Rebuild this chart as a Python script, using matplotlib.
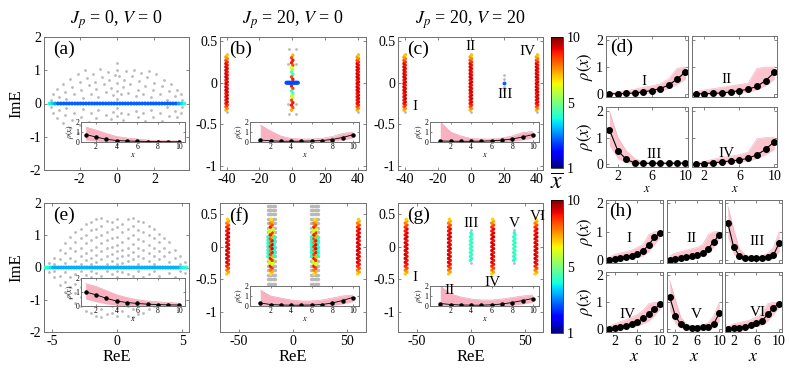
import numpy as np
import matplotlib.pyplot as plt
from matplotlib import colors, cm

plt.rcParams['font.family'] = ['Liberation Serif', 'DejaVu Serif']
plt.rcParams['mathtext.fontset'] = 'stix'
plt.rcParams['axes.unicode_minus'] = False

site = [1, 2, 3, 4, 5, 6, 7, 8, 9, 10]

# ---------------- spectra data ----------------
# (a) gray eigenvalues, upper half (conjugate pairs drawn mirrored)
a_gray_re = [-3.5, -3.4, -3.2, -3.1, -2.9, -2.8, -2.7, -2.5, -2.4, -2.3, -2.1, -2.0, -1.9, -1.8,
             -1.7, -1.6, -1.5, -1.4, -1.3, -1.2, -1.1, -1.0, -0.9, -0.8, -0.7, -0.6, -0.5, -0.4,
             -0.3, -0.2, -0.1, 0.0, 0.0, 0.0, 0.0, 0.0, 0.1, 0.2, 0.3, 0.4, 0.5, 0.6, 0.7, 0.8,
             0.9, 1.0, 1.1, 1.2, 1.3, 1.4, 1.5, 1.6, 1.7, 1.8, 1.9, 2.0, 2.1, 2.3, 2.4, 2.5,
             2.7, 2.8, 2.9, 3.1, 3.2, 3.4, 3.5]
a_gray_im = [0.12, 0.3, 0.45, 0.2, 0.6, 0.35, 0.15, 0.75, 0.5, 0.28, 0.9, 0.65, 0.42, 0.18,
             1.0, 0.78, 0.55, 0.3, 0.9, 0.65, 0.45, 0.2, 1.05, 0.8, 0.58, 0.35, 0.95, 0.7,
             0.48, 0.25, 0.85, 1.22, 1.02, 0.62, 0.38, 0.15, 0.82, 0.28, 0.5, 0.72, 0.98, 0.32, 0.6, 0.82,
             1.02, 0.22, 0.42, 0.68, 0.92, 0.28, 0.52, 0.8, 0.98, 0.2, 0.4, 0.62, 0.88, 0.3, 0.52, 0.72,
             0.12, 0.38, 0.58, 0.22, 0.42, 0.28, 0.1]
a_line_re = [-3.6, -3.45, -3.3, -3.15, -3.0, -2.85, -2.7, -2.55, -2.4, -2.25, -2.1, -1.95, -1.8,
             -1.65, -1.5, -1.35, -1.2, -1.05, -0.9, -0.75, -0.6, -0.45, -0.3, -0.15, 0.0, 0.15,
             0.3, 0.45, 0.6, 0.75, 0.9, 1.05, 1.2, 1.35, 1.5, 1.65, 1.8, 1.95, 2.1, 2.25, 2.4,
             2.55, 2.7, 2.85, 3.0, 3.15, 3.3, 3.45, 3.6]
a_line_xbar = [4.4, 4.0, 3.6] + [3.0] * 43 + [3.6, 4.0, 4.6]

# (e) gray eigenvalues by column, upper half
e_gray_col = [-5.2, -4.8, -4.4, -4.0, -3.6, -3.2, -2.8, -2.4, -2.0, -1.6, -1.2, -0.8, -0.4, 0.0,
              0.4, 0.8, 1.2, 1.6, 2.0, 2.4, 2.8, 3.2, 3.6, 4.0, 4.4, 4.8, 5.2]
e_gray_ims = [[0.15], [0.3, 0.1], [0.55, 0.25], [0.75, 0.45, 0.15], [0.95, 0.6, 0.3],
              [1.1, 0.8, 0.5, 0.2], [1.2, 0.9, 0.62, 0.35, 0.12], [1.35, 1.0, 0.75, 0.45, 0.22],
              [1.4, 1.15, 0.85, 0.55, 0.3, 0.1], [1.5, 1.2, 0.95, 0.65, 0.4, 0.18],
              [1.55, 1.3, 1.0, 0.75, 0.5, 0.25], [1.45, 1.1, 0.85, 0.6, 0.35, 0.12],
              [1.4, 1.2, 0.9, 0.65, 0.42, 0.2], [1.5, 1.25, 0.95, 0.7, 0.5, 0.3, 0.1],
              [1.35, 1.1, 0.8, 0.55, 0.35, 0.15], [1.5, 1.2, 0.9, 0.62, 0.4, 0.2],
              [1.55, 1.28, 1.0, 0.72, 0.48, 0.25], [1.45, 1.15, 0.88, 0.6, 0.35, 0.12],
              [1.4, 1.1, 0.82, 0.55, 0.3], [1.3, 1.02, 0.7, 0.45, 0.2], [1.2, 0.92, 0.6, 0.35, 0.12],
              [1.05, 0.78, 0.5, 0.25], [0.9, 0.62, 0.35], [0.78, 0.48, 0.18], [0.55, 0.28],
              [0.35, 0.12], [0.18]]
e_line_re = [-5.5, -5.3, -5.1, -4.9, -4.7, -4.5, -4.3, -4.1, -3.9, -3.7, -3.5, -3.3, -3.1, -2.9,
             -2.7, -2.5, -2.3, -2.1, -1.9, -1.7, -1.5, -1.3, -1.1, -0.9, -0.7, -0.5, -0.3, -0.1,
             0.1, 0.3, 0.5, 0.7, 0.9, 1.1, 1.3, 1.5, 1.7, 1.9, 2.1, 2.3, 2.5, 2.7, 2.9, 3.1, 3.3,
             3.5, 3.7, 3.9, 4.1, 4.3, 4.5, 4.7, 4.9, 5.1, 5.3]
e_line_xbar = [4.6, 4.4, 4.2] + [3.7] * 49 + [4.2, 4.4, 4.6]

# red/orange edge-localized columns (b, c)
red_bc_im = [-0.33, -0.31, -0.29, -0.27, -0.25, -0.23, -0.21, -0.19, -0.17, -0.15, -0.13, -0.11,
             -0.09, -0.07, -0.05, -0.03, -0.01, 0.01, 0.03, 0.05, 0.07, 0.09, 0.11, 0.13, 0.15,
             0.17, 0.19, 0.21, 0.23, 0.25, 0.27, 0.29, 0.31, 0.33]
red_bc_xbar = [7.4, 7.8, 8.3, 8.8, 9.0, 9.2, 9.0, 9.3, 9.1, 9.4, 9.0, 9.2, 9.3, 9.1, 9.4, 9.0,
               9.2, 9.3, 9.0, 9.2, 9.4, 9.1, 9.3, 9.0, 9.2, 9.1, 9.3, 9.0, 9.2, 8.8, 8.5, 8.0,
               7.7, 7.3]
red_bc_dre = [-0.4, 0.4] * 17
# (b) central column at ReE = 0
b_mid_im = [0.33, 0.3, 0.27, 0.24, 0.21, 0.18, 0.16, 0.13, 0.1, 0.07, 0.04, -0.04, -0.07, -0.1,
            -0.13, -0.16, -0.18, -0.21, -0.24, -0.27, -0.3, -0.33]
b_mid_xbar = [7.5, 8.5, 9.0, 9.0, 8.5, 6.5, 6.3, 5.0, 4.8, 8.5, 9.0, 9.0, 8.5, 4.8, 5.0, 6.3,
              6.5, 8.5, 9.0, 9.0, 8.5, 7.5]
b_mid_dre = [0.4, -0.4] * 11
b_bar_re = [-3.5, -3.0, -2.5, -2.0, -1.5, -1.0, -0.5, 0.0, 0.5, 1.0, 1.5, 2.0, 2.5, 3.0, 3.5]
b_gray_re = [-2.0, 2.1, -2.0, 2.1, -2.4, 2.5, -2.4, 2.5, -40, -40, 40, 40]
b_gray_im = [0.4, 0.4, -0.38, -0.38, 0.22, 0.22, -0.25, -0.25, 0.35, -0.35, 0.35, -0.35]
# (c) state III
c3_gray_im = [-0.09, -0.05, 0.05, 0.09]

# red/orange columns (f, g)
red_fg_im = [-0.42, -0.39, -0.36, -0.33, -0.3, -0.27, -0.24, -0.21, -0.18, -0.15, -0.12, -0.09,
             -0.06, -0.03, 0.0, 0.03, 0.06, 0.09, 0.12, 0.15, 0.18, 0.21, 0.24, 0.27, 0.3, 0.33,
             0.36, 0.39, 0.42]
red_fg_xbar = [7.2, 7.6, 8.0, 8.5, 8.8, 9.0, 9.2, 9.0, 9.3, 9.1, 9.4, 9.0, 9.2, 9.3, 9.1, 9.2,
               9.3, 9.0, 9.2, 9.4, 9.1, 9.3, 9.0, 9.2, 8.8, 8.5, 8.0, 7.6, 7.2]
red_fg_dre = [-0.8, 0.8] * 14 + [0.0]
# (f) bulk clusters at ReE = +-20
f_mid_xbar = [7.0, 7.5, 8.0, 8.5, 9.0, 6.5, 6.2, 8.8, 9.0, 7.5, 8.5, 9.0, 8.0, 9.2, 8.7, 9.2,
              8.0, 9.0, 8.5, 7.5, 9.0, 8.8, 6.2, 6.5, 9.0, 8.5, 8.0, 7.5, 7.0]
f_cyan_dre = [-3.0, -2.2, -1.5, 1.5, 2.2, 3.0]
f_cyan_im = [-0.15, -0.1, -0.05, 0.0, 0.05, 0.1, 0.15]
f_yel_dre = [-1.8, 1.8, -1.8, 1.8, -1.8, 1.8, -1.8, 1.8]
f_yel_im = [0.2, 0.2, 0.26, 0.26, -0.2, -0.2, -0.26, -0.26]
f_gray_dre = [-3.4, -2.3, -1.2, 0.0, 1.2, 2.3, 3.4]
f_gray_im = [-0.57, -0.5, -0.43, -0.36, -0.29, -0.22, -0.15, -0.08, 0.0, 0.08, 0.15, 0.22,
             0.29, 0.36, 0.43, 0.5, 0.57, 0.62]
# (g) bulk-like states III and V
g_cyan_im = [-0.21, -0.18, -0.15, -0.12, -0.09, -0.06, -0.03, 0.0, 0.03, 0.06, 0.09, 0.12,
             0.15, 0.18, 0.21]
g_cyan_xbar = [4.5, 4.7, 4.6, 4.8, 4.6, 4.7, 4.9, 4.6, 4.8, 4.6, 4.7, 4.8, 4.6, 4.7, 4.5]
g_cyan_dre = [-0.6, 0.6] * 7 + [0.0]

# ---------------- density profiles ----------------
ins_a_mean = [0.75, 0.5, 0.27, 0.15, 0.1, 0.07, 0.05, 0.04, 0.03, 0.03]
ins_a_hi = [1.5, 1.2, 0.85, 0.55, 0.4, 0.3, 0.2, 0.15, 0.12, 0.1]
ins_a_lo = [0.2, 0.1, 0.02, 0.0, 0.0, 0.0, 0.0, 0.0, 0.0, 0.0]
ins_b_mean = [0.2, 0.12, 0.08, 0.07, 0.08, 0.1, 0.15, 0.25, 0.45, 0.72]
ins_b_hi = [1.7, 1.1, 0.6, 0.35, 0.3, 0.3, 0.35, 0.55, 0.85, 1.0]
ins_b_lo = [0.0, 0.0, 0.0, 0.0, 0.0, 0.0, 0.02, 0.08, 0.2, 0.4]
ins_c_mean = [0.1, 0.08, 0.07, 0.07, 0.08, 0.12, 0.18, 0.3, 0.5, 0.75]
ins_c_hi = [2.0, 1.0, 0.6, 0.35, 0.3, 0.3, 0.4, 0.6, 0.95, 1.05]
ins_c_lo = [0.0, 0.0, 0.0, 0.0, 0.0, 0.0, 0.02, 0.08, 0.2, 0.4]
ins_e_mean = [1.0, 0.8, 0.55, 0.35, 0.25, 0.18, 0.13, 0.1, 0.08, 0.07]
ins_e_hi = [1.6, 1.4, 1.1, 0.8, 0.6, 0.45, 0.35, 0.3, 0.25, 0.2]
ins_e_lo = [0.5, 0.3, 0.15, 0.05, 0.0, 0.0, 0.0, 0.0, 0.0, 0.0]
ins_f_mean = [0.3, 0.15, 0.1, 0.08, 0.08, 0.1, 0.15, 0.3, 0.55, 0.85]
ins_f_hi = [1.6, 1.0, 0.8, 0.6, 0.5, 0.5, 0.6, 0.8, 1.0, 1.1]
ins_f_lo = [0.0, 0.0, 0.0, 0.0, 0.0, 0.0, 0.0, 0.05, 0.2, 0.45]
ins_g_mean = [0.25, 0.15, 0.1, 0.08, 0.08, 0.12, 0.2, 0.35, 0.55, 0.75]
ins_g_hi = [2.0, 1.2, 0.9, 0.7, 0.6, 0.6, 0.7, 0.85, 1.0, 1.1]
ins_g_lo = [0.0, 0.0, 0.0, 0.0, 0.0, 0.0, 0.02, 0.08, 0.2, 0.4]

d_mean = [[0.01, 0.01, 0.02, 0.04, 0.08, 0.13, 0.2, 0.33, 0.55, 0.82],
          [0.01, 0.01, 0.02, 0.04, 0.08, 0.12, 0.18, 0.28, 0.5, 0.8],
          [1.3, 0.5, 0.18, 0.04, 0.03, 0.03, 0.03, 0.03, 0.03, 0.04],
          [0.01, 0.02, 0.05, 0.08, 0.12, 0.15, 0.22, 0.35, 0.55, 0.85]]
d_hi = [[0.05, 0.08, 0.12, 0.18, 0.25, 0.3, 0.38, 0.55, 0.95, 1.0],
        [0.1, 0.15, 0.2, 0.25, 0.3, 0.35, 0.4, 0.95, 1.0, 1.0],
        [2.0, 1.0, 0.5, 0.2, 0.08, 0.06, 0.06, 0.06, 0.06, 0.08],
        [0.05, 0.1, 0.18, 0.25, 0.3, 0.35, 0.45, 0.95, 1.0, 1.0]]
d_lo = [[0.0, 0.0, 0.0, 0.0, 0.02, 0.05, 0.1, 0.2, 0.35, 0.55],
        [0.0, 0.0, 0.0, 0.0, 0.02, 0.05, 0.08, 0.15, 0.3, 0.55],
        [0.7, 0.2, 0.05, 0.0, 0.0, 0.0, 0.0, 0.0, 0.0, 0.0],
        [0.0, 0.0, 0.0, 0.02, 0.05, 0.08, 0.12, 0.2, 0.35, 0.55]]
d_names = ['I', 'II', 'III', 'IV']
d_txt = [(5.1, 0.45), (4.5, 0.55), (6.3, 0.35), (4.5, 0.4)]

h_mean = [[0.01, 0.04, 0.08, 0.12, 0.15, 0.2, 0.32, 0.55, 0.8, 0.96],
          [0.01, 0.03, 0.06, 0.1, 0.14, 0.18, 0.25, 0.4, 0.65, 0.9],
          [1.3, 0.48, 0.15, 0.08, 0.06, 0.06, 0.08, 0.12, 0.18, 0.6],
          [0.01, 0.04, 0.08, 0.13, 0.2, 0.28, 0.4, 0.55, 0.75, 0.92],
          [1.2, 0.5, 0.18, 0.08, 0.05, 0.05, 0.07, 0.1, 0.2, 0.6],
          [0.01, 0.03, 0.06, 0.1, 0.15, 0.22, 0.32, 0.55, 0.8, 0.95]]
h_hi = [[0.1, 0.2, 0.25, 0.3, 0.35, 0.45, 0.55, 0.9, 1.0, 1.0],
        [0.15, 0.25, 0.3, 0.35, 0.4, 0.45, 0.55, 0.9, 1.0, 1.0],
        [1.9, 1.1, 0.4, 0.2, 0.12, 0.12, 0.15, 0.25, 0.45, 1.0],
        [0.1, 0.2, 0.28, 0.35, 0.45, 0.55, 0.7, 0.95, 1.0, 1.0],
        [1.8, 1.1, 0.45, 0.2, 0.12, 0.12, 0.15, 0.25, 0.5, 1.0],
        [0.1, 0.2, 0.25, 0.3, 0.35, 0.45, 0.6, 0.95, 1.0, 1.0]]
h_lo = [[0.0, 0.0, 0.02, 0.05, 0.08, 0.1, 0.15, 0.3, 0.55, 0.8],
        [0.0, 0.0, 0.02, 0.05, 0.08, 0.1, 0.15, 0.25, 0.45, 0.75],
        [0.8, 0.2, 0.05, 0.0, 0.0, 0.0, 0.0, 0.02, 0.05, 0.3],
        [0.0, 0.0, 0.02, 0.05, 0.08, 0.12, 0.2, 0.3, 0.5, 0.75],
        [0.7, 0.2, 0.05, 0.0, 0.0, 0.0, 0.0, 0.02, 0.05, 0.3],
        [0.0, 0.0, 0.02, 0.05, 0.08, 0.1, 0.15, 0.3, 0.55, 0.8]]
h_names = ['I', 'II', 'III', 'IV', 'V', 'VI']
h_txt = [(4.5, 0.75), (5.0, 0.75), (6.1, 0.65), (4.3, 0.55), (5.8, 0.55), (6.3, 0.62)]

titles = [r'$J_p$ = 0, $V$ = 0', r'$J_p$ = 20, $V$ = 0', r'$J_p$ = 20, $V$ = 20']

# ---------------- drawing ----------------
W, H = 789, 375
fig = plt.figure(figsize=(W / 100, H / 100), dpi=100)
cmap = plt.get_cmap('jet')
norm = colors.Normalize(1, 10)
GRAY = '#b9b9b9'
PINK = '#f7a9b9'


def px(l, t, r, b):
    return [l / W, 1 - b / H, (r - l) / W, (b - t) / H]


def style(ax, fs=10):
    for s in ax.spines.values():
        s.set_color('#707070')
        s.set_linewidth(0.7)
    ax.tick_params(direction='in', length=2.5, width=0.6, top=True, right=True,
                   labelsize=fs, color='#707070', labelcolor='k', pad=2)


def spec_ax(rect, xlim, ylim, xt, yt, ytl):
    ax = fig.add_axes(rect)
    ax.set_xlim(xlim)
    ax.set_ylim(ylim)
    ax.set_xticks(xt)
    ax.set_yticks(yt)
    ax.set_yticklabels(ytl)
    style(ax)
    return ax


def gray(ax, re, im, s=4):
    ax.scatter(re, im, s=s, c=GRAY, marker='o', linewidths=0, zorder=2)


def pts(ax, re, im, xb, s=6):
    ax.scatter(re, im, c=xb, cmap=cmap, norm=norm, s=s, marker='o', linewidths=0, zorder=3)


def inset(rect, mean, lo, hi, xlim):
    ax = fig.add_axes(rect)
    ax.fill_between(site, lo, hi, color=PINK, lw=0, alpha=0.9)
    ax.plot(site, hi, color='#f58ea3', lw=0.4)
    ax.plot(site, mean, '-o', color='k', lw=0.6, ms=2.2)
    ax.set_xlim(xlim)
    ax.set_ylim(0, 2)
    ax.set_xticks([2, 4, 6, 8, 10])
    ax.set_yticks([0, 1, 2])
    style(ax, fs=5.5)
    ax.tick_params(pad=1, length=1.5)
    ax.set_xlabel('$x$', fontsize=6, labelpad=0)
    ax.set_ylabel(r'$\rho(x)$', fontsize=5.5, labelpad=0)
    return ax


# (a)
ax_a = spec_ax(px(44, 37, 189, 170), (-3.9, 3.85), (-2, 2), [-2, 0, 2], [-2, -1, 0, 1, 2],
               ['-2', '-1', '0', '1', '2'])
gray(ax_a, a_gray_re + a_gray_re, a_gray_im + [-v for v in a_gray_im])
pts(ax_a, a_line_re, [0] * len(a_line_re), a_line_xbar, s=8)
ax_a.set_ylabel('ImE', fontsize=12, labelpad=4)
inset(px(81, 122, 185, 142), ins_a_mean, ins_a_lo, ins_a_hi, (0.55, 10.6))

# (b)
ax_b = spec_ax(px(220, 37, 366, 170), (-44, 45), (-1.05, 0.55), [-40, -20, 0, 20, 40],
               [-1, -0.5, 0, 0.5], ['-1', '-0.5', '0', '0.5'])
gray(ax_b, b_gray_re, b_gray_im)
for x0 in [-40, 40]:
    pts(ax_b, [x0 + d for d in red_bc_dre], red_bc_im, red_bc_xbar)
pts(ax_b, b_mid_dre, b_mid_im, b_mid_xbar)
pts(ax_b, b_bar_re, [0] * len(b_bar_re), [2.8] * len(b_bar_re), s=8)
inset(px(250, 122, 359, 142), ins_b_mean, ins_b_lo, ins_b_hi, (0, 10.6))

# (c)
ax_c = spec_ax(px(398, 37, 543, 170), (-44, 43.6), (-1.05, 0.55), [-40, -20, 0, 20, 40],
               [-1, -0.5, 0, 0.5], ['-1', '-0.5', '0', '0.5'])
for x0 in [-40, 0, 40]:
    gray(ax_c, [x0, x0], [0.35, -0.35])
    pts(ax_c, [x0 + d for d in red_bc_dre], red_bc_im, red_bc_xbar)
gray(ax_c, [20] * len(c3_gray_im), c3_gray_im)
pts(ax_c, [20], [0], [3.0], s=8)
inset(px(430, 122, 539, 142), ins_c_mean, ins_c_lo, ins_c_hi, (0, 10.6))
for s, (x, y) in zip(['I', 'II', 'III', 'IV'], [(-34, -0.29), (0, 0.43), (21, -0.14), (34, 0.38)]):
    fig.text(x, y, s, transform=ax_c.transData, ha='center', va='center', fontsize=11)

# (e)
ax_e = spec_ax(px(44, 203, 189, 332), (-5.6, 5.5), (-2, 2), [-5, 0, 5], [-2, -1, 0, 1, 2],
               ['-2', '-1', '0', '1', '2'])
e_re = [c for c, ims in zip(e_gray_col, e_gray_ims) for _ in ims]
e_im = [v for ims in e_gray_ims for v in ims]
gray(ax_e, e_re + e_re, e_im + [-v for v in e_im])
pts(ax_e, e_line_re, [0] * len(e_line_re), e_line_xbar, s=8)
ax_e.set_ylabel('ImE', fontsize=12, labelpad=4)
ax_e.set_xlabel('ReE', fontsize=12, labelpad=1)
inset(px(81, 278, 185, 306), ins_e_mean, ins_e_lo, ins_e_hi, (0.55, 10.6))

# (f)
ax_f = spec_ax(px(220, 203, 366, 332), (-67, 67), (-1.31, 0.67), [-50, 0, 50],
               [-1, -0.5, 0, 0.5], ['-1', '-0.5', '0', '0.5'])
for x0 in [-20, 20]:
    gray(ax_f, [x0 + d for d in f_gray_dre for _ in f_gray_im], f_gray_im * len(f_gray_dre), s=6)
    pts(ax_f, [x0 + d for d in f_cyan_dre for _ in f_cyan_im], f_cyan_im * len(f_cyan_dre),
        [4.6] * (len(f_cyan_dre) * len(f_cyan_im)))
    pts(ax_f, [x0 + d for d in f_yel_dre], f_yel_im, [6.4] * len(f_yel_im))
    pts(ax_f, [x0 + d for d in red_fg_dre], red_fg_im, f_mid_xbar)
for x0 in [-60, 60]:
    pts(ax_f, [x0 + d for d in red_fg_dre], red_fg_im, red_fg_xbar)
ax_f.set_xlabel('ReE', fontsize=12, labelpad=1)
inset(px(250, 286, 359, 306), ins_f_mean, ins_f_lo, ins_f_hi, (0, 10.6))

# (g)
ax_g = spec_ax(px(398, 203, 543, 332), (-67.5, 66.5), (-1.31, 0.67), [-50, 0, 50],
               [-1, -0.5, 0, 0.5], ['-1', '-0.5', '0', '0.5'])
for x0 in [-60, -20, 20, 60]:
    pts(ax_g, [x0 + d for d in red_fg_dre], red_fg_im, red_fg_xbar)
for x0 in [0, 40]:
    gray(ax_g, [x0, x0], [0.25, -0.25])
    pts(ax_g, [x0 + d for d in g_cyan_dre], g_cyan_im, g_cyan_xbar)
ax_g.set_xlabel('ReE', fontsize=12, labelpad=1)
inset(px(430, 286, 539, 306), ins_g_mean, ins_g_lo, ins_g_hi, (0, 10.6))
for s, (x, y) in zip(['I', 'II', 'III', 'IV', 'V', 'VI'],
                     [(-52, -0.48), (-20, -0.68), (0, 0.36), (20, -0.55), (40, 0.36), (62, 0.46)]):
    fig.text(x, y, s, transform=ax_g.transData, ha='center', va='center', fontsize=11)

# panel letters
for ax, lab in zip([ax_a, ax_b, ax_c, ax_e, ax_f, ax_g], ['(a)', '(b)', '(c)', '(e)', '(f)', '(g)']):
    ax.text(0.06, 0.97, lab, transform=ax.transAxes, ha='left', va='top', fontsize=14, zorder=5)

# titles
for ax, t in zip([ax_a, ax_b, ax_c], titles):
    bb = ax.get_position()
    fig.text(bb.x0 + bb.width / 2, 1 - 20 / H, t, ha='center', va='center', fontsize=13)

# colorbars
sm = cm.ScalarMappable(norm=norm, cmap=cmap)
for rect in [px(551, 37, 563, 168), px(551, 200, 563, 333)]:
    cax = fig.add_axes(rect)
    cb = fig.colorbar(sm, cax=cax, ticks=[1, 5.5, 10])
    cb.ax.set_yticklabels(['1', '5', '10'])
    cb.outline.set_linewidth(0.5)
    cb.ax.tick_params(labelsize=10, length=0, pad=3)
fig.text(557 / W, 1 - 184 / H, r'$\overline{x}$', ha='center', va='center', fontsize=17)


def rho_ax(rect, mean, lo, hi, name, pos, xlim, ylim, show_x, show_y, xfs):
    ax = fig.add_axes(rect)
    ax.fill_between(site, lo, hi, color='#fbc3cd', lw=0)
    ax.plot(site, hi, color='#f7a9b9', lw=0.4)
    ax.plot(site, mean, '-o', color='k', lw=0.8, ms=4)
    ax.set_xlim(xlim)
    ax.set_ylim(ylim)
    ax.set_xticks([2, 6, 10])
    ax.set_yticks([0, 1, 2])
    style(ax)
    if not show_x:
        ax.set_xticklabels([])
    else:
        ax.set_xlabel('$x$', fontsize=xfs, labelpad=0)
    if not show_y:
        ax.set_yticklabels([])
    else:
        ax.set_ylabel(r'$\rho(x)$', fontsize=12, labelpad=1)
    ax.text(pos[0], pos[1], name, ha='center', va='center', fontsize=11)
    return ax


# (d)
d_rects = [px(606, 36, 688, 97), px(692, 36, 777, 97), px(606, 107, 688, 167), px(692, 107, 777, 167)]
d_axes = []
for i in range(4):
    d_axes.append(rho_ax(d_rects[i], d_mean[i], d_lo[i], d_hi[i], d_names[i], d_txt[i],
                         (0.6, 10.3), (-0.11, 2.15), i >= 2, i % 2 == 0, 9))
d_axes[0].text(0.05, 0.95, '(d)', transform=d_axes[0].transAxes, ha='left', va='top', fontsize=14)

# (h)
cols = [(606, 663), (667, 722), (725, 782)]
rows = [(200, 263), (272, 332)]
h_axes = []
for i in range(6):
    r, c = divmod(i, 3)
    rect = px(cols[c][0], rows[r][0], cols[c][1], rows[r][1])
    h_axes.append(rho_ax(rect, h_mean[i], h_lo[i], h_hi[i], h_names[i], h_txt[i],
                         (0.5, 10.5), (-0.1, 2.12), r == 1, c == 0, 13))
h_axes[0].text(0.06, 0.95, '(h)', transform=h_axes[0].transAxes, ha='left', va='top', fontsize=14)

fig.savefig('out.png', dpi=100)
